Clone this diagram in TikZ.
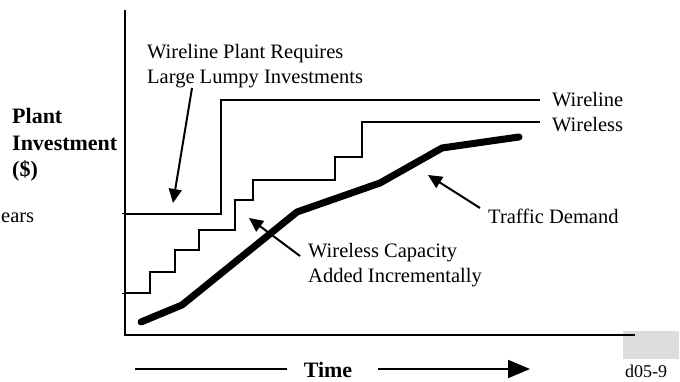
\documentclass[tikz,border=0pt]{standalone}
\usepackage{fontspec}
\setmainfont{Liberation Serif}
\usetikzlibrary{arrows.meta,positioning}
\definecolor{boxgray}{RGB}{220,220,220}
\tikzstyle{lbl}=[inner sep=0pt,font=\fontsize{20.5}{25}\selectfont,align=left]
\tikzstyle{blbl}=[lbl,font=\fontsize{22}{26.5}\selectfont\bfseries]
\tikzstyle{curve}=[line width=1.5pt]
\tikzstyle{pointer}=[line width=2pt,-{Triangle[length=14pt,width=13pt]}]

\begin{document}
\begin{tikzpicture}[x=1pt, y=-1pt, node distance=12pt]
  \useasboundingbox (0,0) rectangle (680,382);

  \fill[boxgray] (623,331) rectangle (679,359);
  \node[lbl, font=\fontsize{18}{22}\selectfont] (tag) at (646,371) {d05-9};

  \draw[line width=2pt] (125,10) -- (125,335) -- (635,335);
  \draw[line width=1pt] (122,214) -- (125,214) (122,293) -- (125,293);

  \draw[curve] (125,214) -- (221,214) -- (221,100) -- (540,100) coordinate (wlend);
  \draw[curve] (125,293) -| (150,272) -| (175,250) -| (199,230) -| (235,200)
    -| (253,180) -| (335,157) -| (362,122) -- (540,122) coordinate (wsend);
  \draw[line width=7pt, line cap=round, line join=round]
    (141,322) -- (182,305) -- (297,212) -- (380,183) -- (442,148) -- (519,137);

  \node[lbl, right=of wlend] (wireline) {Wireline};
  \node[lbl, right=of wsend, yshift=-3pt] (wireless) {Wireless};

  \node[blbl, anchor=west] (invest) at (12,145) {Plant\\Investment\\(\$)};
  \node[lbl, anchor=west] (ears) at (1,218) {ears};

  \node[lbl, anchor=west] (lumpy) at (147,66) {Wireline Plant Requires\\Large Lumpy Investments};
  \node[lbl, anchor=west] (wcap) at (308,265) {Wireless Capacity\\Added Incrementally};
  \node[lbl, anchor=west] (traffic) at (488,216) {Traffic Demand};

  \coordinate (lumpyto) at (173,203);
  \coordinate (wcapfrom) at (300,256);
  \coordinate (wcapto) at (249,218);
  \coordinate (trafrom) at (480,208);
  \coordinate (trato) at (428,175);
  \draw[pointer] ([xshift=45pt]lumpy.south west) -- (lumpyto);
  \draw[pointer] (wcapfrom) -- (wcapto);
  \draw[pointer] (trafrom) -- (trato);

  \node[blbl] (time) at (328,370) {Time};
  \coordinate (tstart) at (135,369);
  \coordinate (tend) at (530,369);
  \draw[line width=2pt] (tstart) -- ([xshift=-17pt]time.west |- tstart);
  \draw[line width=2pt, -{Triangle[length=22pt,width=18pt]}]
    ([xshift=26pt]time.east |- tend) -- (tend);
\end{tikzpicture}
\end{document}
